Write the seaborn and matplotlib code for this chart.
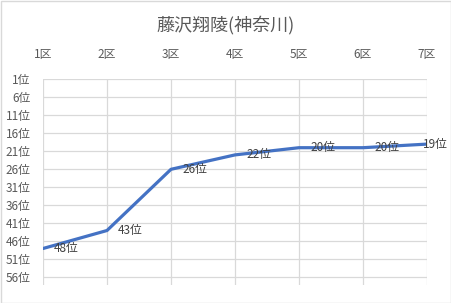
import matplotlib
matplotlib.use("Agg")
import matplotlib.pyplot as plt
import seaborn as sns
import pandas as pd
from matplotlib.patches import Rectangle

sections = ["1区", "2区", "3区", "4区", "5区", "6区", "7区"]
ranks = [48, 43, 26, 22, 20, 20, 19]
ytick_vals = [1, 6, 11, 16, 21, 26, 31, 36, 41, 46, 51, 56]
ytick_labels = [f"{v}位" for v in ytick_vals]
title = "藤沢翔陵(神奈川)"

sns.set_theme(style="white")
plt.rcParams['font.family'] = ['Noto Sans CJK JP', 'DejaVu Sans']

df = pd.DataFrame({"x": list(range(len(sections))), "rank": ranks})

fig = plt.figure(figsize=(4.52, 3.03), dpi=100)
W, H = 452, 303
left, right, top, bottom = 43, 427, 79.3, 284.5
ax = fig.add_axes([left / W, 1 - bottom / H, (right - left) / W, (bottom - top) / H])

sns.lineplot(data=df, x="x", y="rank", ax=ax, color="#4472C4", linewidth=2.3, zorder=3)

ax.set_xlim(0, len(sections) - 1)
ax.set_ylim(58, 1)
ax.set_xticks(range(len(sections)))
ax.set_xticklabels(sections)
ax.set_yticks(ytick_vals)
ax.set_yticklabels(ytick_labels)
ax.xaxis.tick_top()
ax.tick_params(axis="x", length=0, pad=13, labelsize=8.5, colors="#595959")
ax.tick_params(axis="y", length=0, pad=9, labelsize=8.5, colors="#595959")
ax.set_xlabel("")
ax.set_ylabel("")
ax.grid(True, color="#d9d9d9", linewidth=0.9)
for s in ax.spines.values():
    s.set_visible(False)

n = len(df)
for i, (xi, r) in enumerate(zip(df["x"], df["rank"])):
    dx = 8 if i < n - 1 else -3
    ax.annotate(f"{r}位", (xi, r), xytext=(dx, 0), textcoords="offset points",
                ha="left", va="center", fontsize=8.5, color="#404040", zorder=4,
                annotation_clip=False)

fig.text(226 / W, 1 - 25 / H, title, ha="center", va="center", fontsize=13, color="#595959")
fig.patches.append(Rectangle((0.5 / W, 0.5 / H), 1 - 1 / W, 1 - 1 / H, transform=fig.transFigure,
                             fill=False, edgecolor="#d9d9d9", linewidth=1))

fig.savefig("out.png", dpi=100, facecolor="white")
